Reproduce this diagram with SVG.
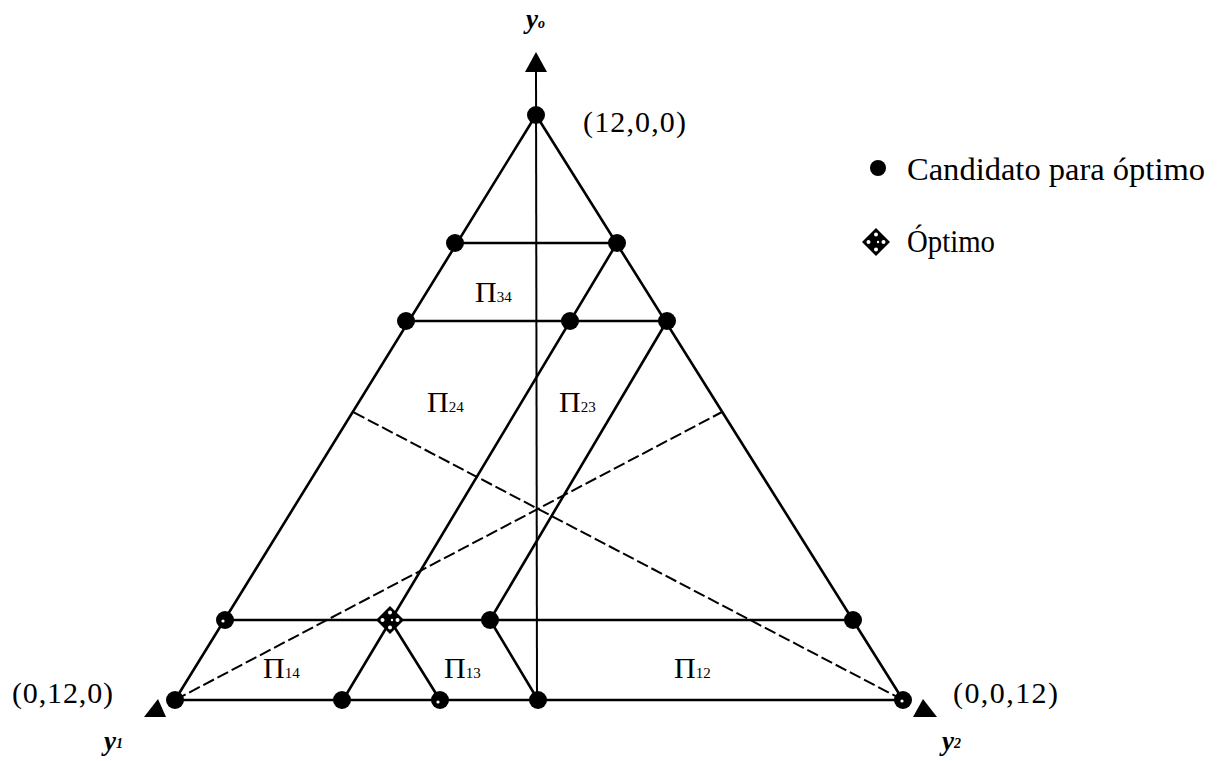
<svg xmlns="http://www.w3.org/2000/svg" width="1220" height="761" viewBox="0 0 1220 761">
<style>
.edge{stroke:#000;stroke-width:2.6;fill:none;stroke-linecap:round}
.thin{stroke:#000;stroke-width:2;fill:none}
.dash{stroke:#000;stroke-width:2;fill:none;stroke-dasharray:12 4}
.dot{fill:#000}
.hole{fill:#fff}
.lbl{font-family:"Liberation Serif","Times New Roman",serif;fill:#000}
.axis{font-family:"Liberation Serif","Times New Roman",serif;font-style:italic;font-weight:bold;fill:#000}
</style>
<defs>
<g id="diamond">
<polygon points="0,-14 14,0 0,14 -14,0" fill="#000"/>
<circle cx="0" cy="-7.5" r="2" fill="#fff"/>
<circle cx="0" cy="7.5" r="2" fill="#fff"/>
<circle cx="-7.5" cy="0" r="2" fill="#fff"/>
<circle cx="7.5" cy="0" r="2" fill="#fff"/>
<circle cx="2" cy="0" r="1.2" fill="#fff"/>
</g>
</defs>
<rect width="1220" height="761" fill="#fff"/>

<g id="connectors">
<line class="edge" x1="536" y1="115" x2="175" y2="700"/>
<line class="edge" x1="536" y1="115" x2="903" y2="700"/>
<line class="edge" x1="175" y1="700" x2="903" y2="700"/>
<line class="thin" x1="536" y1="70" x2="537" y2="700"/>
<line class="edge" x1="455" y1="243" x2="617" y2="243"/>
<line class="edge" x1="406" y1="321" x2="667" y2="321"/>
<line class="edge" x1="225" y1="620" x2="853" y2="620"/>
<line class="edge" x1="617" y1="243" x2="343" y2="700"/>
<line class="edge" x1="667" y1="321" x2="490" y2="620"/>
<line class="edge" x1="390" y1="620" x2="440" y2="700"/>
<line class="edge" x1="490" y1="620" x2="538" y2="700"/>
<line class="dash" x1="175" y1="700" x2="722" y2="412"/>
<line class="dash" x1="903" y1="700" x2="353" y2="412"/>
<polygon points="536,52 525,72 547,72" fill="#000"/>
<polygon points="144,717 166,717 158,699" fill="#000"/>
<polygon points="913,717 937,717 923,699" fill="#000"/>
</g>

<g id="n-apex"><circle class="dot" cx="536" cy="115" r="9"/></g>
<g id="n-r1a"><circle class="dot" cx="455" cy="243" r="9"/></g>
<g id="n-r1b"><circle class="dot" cx="617" cy="243" r="9"/></g>
<g id="n-r2a"><circle class="dot" cx="406" cy="321" r="9"/></g>
<g id="n-r2b"><circle class="dot" cx="570" cy="321" r="9"/></g>
<g id="n-r2c"><circle class="dot" cx="667" cy="321" r="9"/></g>
<g id="n-r3a"><circle class="dot" cx="225" cy="620" r="9"/><circle class="hole" cx="223" cy="621" r="1.6"/></g>
<g id="n-opt"><use href="#diamond" x="390" y="620"/></g>
<g id="n-r3c"><circle class="dot" cx="490" cy="620" r="9"/></g>
<g id="n-r3d"><circle class="dot" cx="853" cy="620" r="9"/></g>
<g id="n-b1"><circle class="dot" cx="175" cy="700" r="9"/></g>
<g id="n-b2"><circle class="dot" cx="342" cy="700" r="9"/></g>
<g id="n-b3"><circle class="dot" cx="440" cy="700" r="9"/><circle class="hole" cx="438" cy="702" r="1.6"/></g>
<g id="n-b4"><circle class="dot" cx="538" cy="700" r="9"/></g>
<g id="n-b5"><circle class="dot" cx="903" cy="700" r="9"/><circle class="hole" cx="902" cy="701" r="1.6"/></g>

<g id="region-labels">
<text class="lbl" x="475" y="302" font-size="30">Π<tspan font-size="15">34</tspan></text>
<text class="lbl" x="427" y="412" font-size="30">Π<tspan font-size="15">24</tspan></text>
<text class="lbl" x="559" y="412" font-size="30">Π<tspan font-size="15">23</tspan></text>
<text class="lbl" x="263" y="678" font-size="30">Π<tspan font-size="15">14</tspan></text>
<text class="lbl" x="444" y="678" font-size="30">Π<tspan font-size="15">13</tspan></text>
<text class="lbl" x="674" y="678" font-size="30">Π<tspan font-size="15">12</tspan></text>
</g>

<g id="vertex-labels">
<text class="lbl" x="583" y="132" font-size="30" textLength="103" lengthAdjust="spacing">(12,0,0)</text>
<text class="lbl" x="12" y="703" font-size="30" textLength="101" lengthAdjust="spacing">(0,12,0)</text>
<text class="lbl" x="953" y="703" font-size="30" textLength="105" lengthAdjust="spacing">(0,0,12)</text>
</g>

<g id="axis-labels">
<text class="axis" x="526" y="28" font-size="27">y<tspan font-size="14">o</tspan></text>
<text class="axis" x="104" y="750" font-size="27">y<tspan font-size="14" dy="-2">1</tspan></text>
<text class="axis" x="942" y="750" font-size="27">y<tspan font-size="14" dy="-2">2</tspan></text>
</g>

<g id="legend">
<circle class="dot" cx="878" cy="168" r="8"/>
<text class="lbl" x="907" y="180" font-size="31" textLength="298" lengthAdjust="spacingAndGlyphs">Candidato para óptimo</text>
<use href="#diamond" x="876" y="242"/>
<text class="lbl" x="907" y="252" font-size="31" textLength="88" lengthAdjust="spacingAndGlyphs">Óptimo</text>
</g>
</svg>
